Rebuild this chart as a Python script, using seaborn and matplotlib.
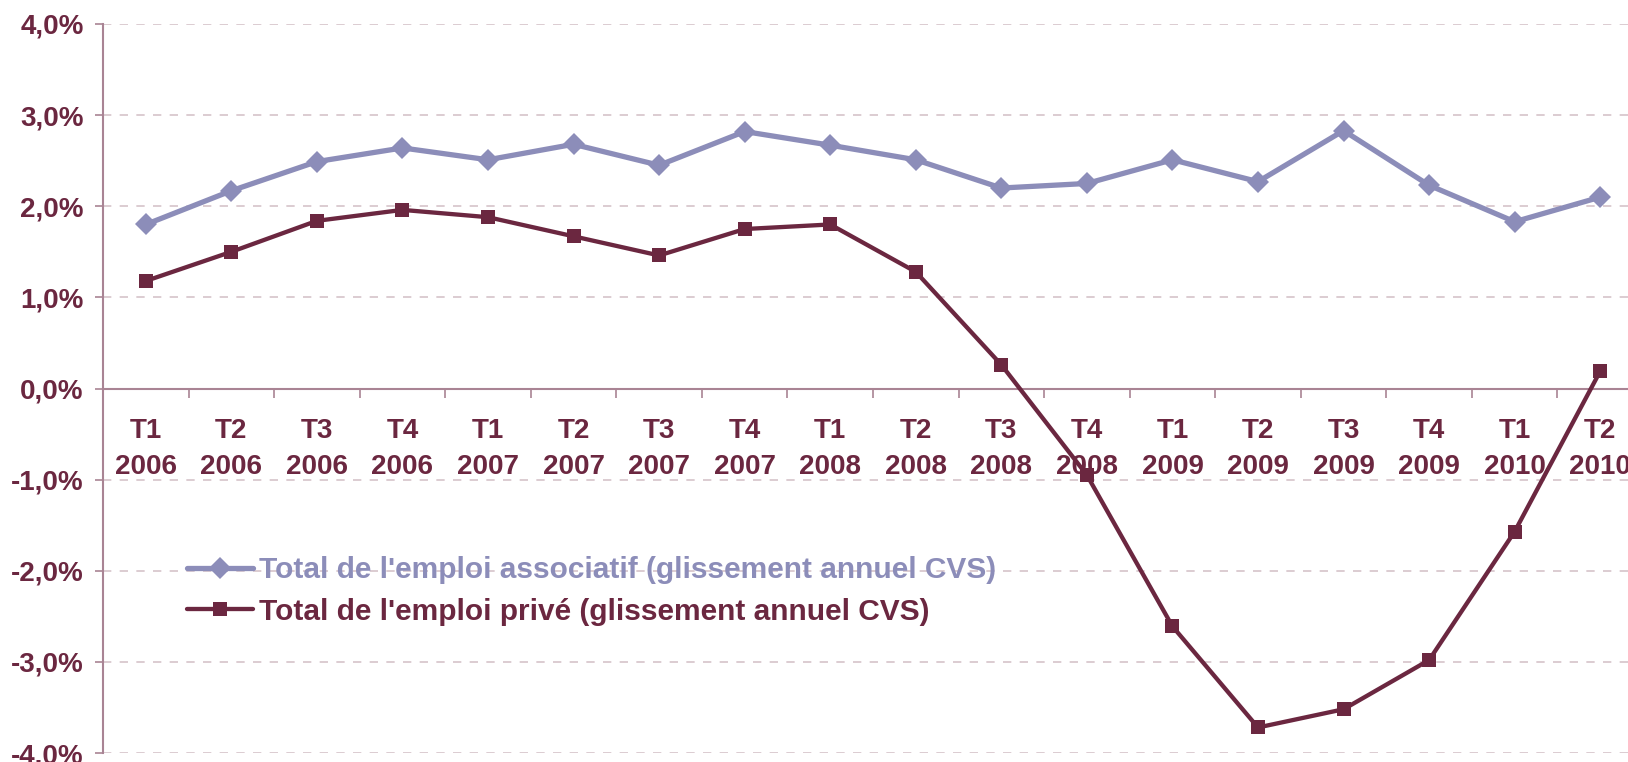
import matplotlib
matplotlib.use("Agg")
import matplotlib.pyplot as plt
import matplotlib.ticker as mticker
import numpy as np
import pandas as pd
import seaborn as sns

# trimestres et valeurs (glissement annuel CVS, en %)
trimestres = ["T1\n2006", "T2\n2006", "T3\n2006", "T4\n2006",
              "T1\n2007", "T2\n2007", "T3\n2007", "T4\n2007",
              "T1\n2008", "T2\n2008", "T3\n2008", "T4\n2008",
              "T1\n2009", "T2\n2009", "T3\n2009", "T4\n2009",
              "T1\n2010", "T2\n2010"]
associatif = [1.80, 2.17, 2.49, 2.64, 2.51, 2.68, 2.45, 2.82, 2.67,
              2.51, 2.20, 2.25, 2.51, 2.27, 2.83, 2.23, 1.83, 2.10]
prive = [1.18, 1.50, 1.84, 1.96, 1.88, 1.67, 1.46, 1.75, 1.80,
         1.28, 0.26, -0.95, -2.61, -3.72, -3.52, -2.98, -1.57, 0.19]
noms = ["Total de l'emploi associatif (glissement annuel CVS)",
        "Total de l'emploi privé (glissement annuel CVS)"]

COL_ASSO = "#8C8DB9"
COL_PRIVE = "#6B2740"
COL_AXE = "#A98494"
COL_GRILLE = "#D6C4CA"

df = pd.DataFrame({
    "pos": list(range(len(trimestres))) * 2,
    "valeur": associatif + prive,
    "serie": [noms[0]] * len(trimestres) + [noms[1]] * len(trimestres),
})

sns.set_style("white")
plt.rcParams["font.family"] = ["Liberation Sans", "DejaVu Sans"]
plt.rcParams["font.weight"] = "bold"

fig = plt.figure(figsize=(16.28, 7.62), dpi=100)
ax = fig.add_axes([103 / 1628, 9 / 762, 1540 / 1628, 729 / 762])

sns.lineplot(data=df[df.serie == noms[0]], x="pos", y="valeur", color=COL_ASSO,
             linewidth=3.8, marker="D", markersize=11, markeredgewidth=0,
             label=noms[0], ax=ax, zorder=3)
sns.lineplot(data=df[df.serie == noms[1]], x="pos", y="valeur", color=COL_PRIVE,
             linewidth=3.1, marker="s", markersize=9.5, markeredgewidth=0,
             label=noms[1], ax=ax, zorder=4)

ax.set_xlim(-0.5, len(trimestres) - 0.5)
ax.set_ylim(-4, 4)
ax.set_xlabel("")
ax.set_ylabel("")

# axe y
ax.set_yticks(np.arange(-4, 5, 1))
ax.yaxis.set_major_formatter(mticker.FuncFormatter(lambda v, p: f"{v:.1f}%".replace(".", ",")))
ax.tick_params(axis="y", direction="out", length=6, width=1.2, color=COL_AXE,
               pad=8, labelsize=20, labelcolor=COL_PRIVE, left=True)
for v in np.arange(-4, 5, 1):
    if v != 0:
        ax.axhline(v, color=COL_GRILLE, linewidth=1.2, linestyle=(0, (5, 5)), zorder=1)

# axe x au niveau de 0
ax.spines["bottom"].set_position(("data", 0))
ax.spines["bottom"].set_color(COL_AXE)
ax.spines["bottom"].set_linewidth(1.5)
ax.spines["left"].set_color(COL_AXE)
ax.spines["left"].set_linewidth(1.5)
ax.spines["top"].set_visible(False)
ax.spines["right"].set_visible(False)

ax.set_xticks(np.arange(-0.5, len(trimestres), 1))
ax.set_xticklabels([])
ax.tick_params(axis="x", which="major", direction="out", length=6.5, width=1.2,
               color=COL_AXE, bottom=True)
ax.set_xticks(range(len(trimestres)), minor=True)
ax.set_xticklabels(trimestres, minor=True, fontsize=20, color=COL_PRIVE,
                   fontweight="bold", linespacing=1.5)
ax.tick_params(axis="x", which="minor", length=0, pad=21)

leg = ax.legend(loc="center left", bbox_to_anchor=(187 / 1628, 171 / 762),
                bbox_transform=fig.transFigure, frameon=False, fontsize=21.5,
                handlelength=2.2, handletextpad=0.2, labelspacing=0.44,
                borderpad=0, borderaxespad=0)
for txt, col in zip(leg.get_texts(), [COL_ASSO, COL_PRIVE]):
    txt.set_color(col)
    txt.set_fontweight("bold")

fig.savefig("out.png", dpi=100)
